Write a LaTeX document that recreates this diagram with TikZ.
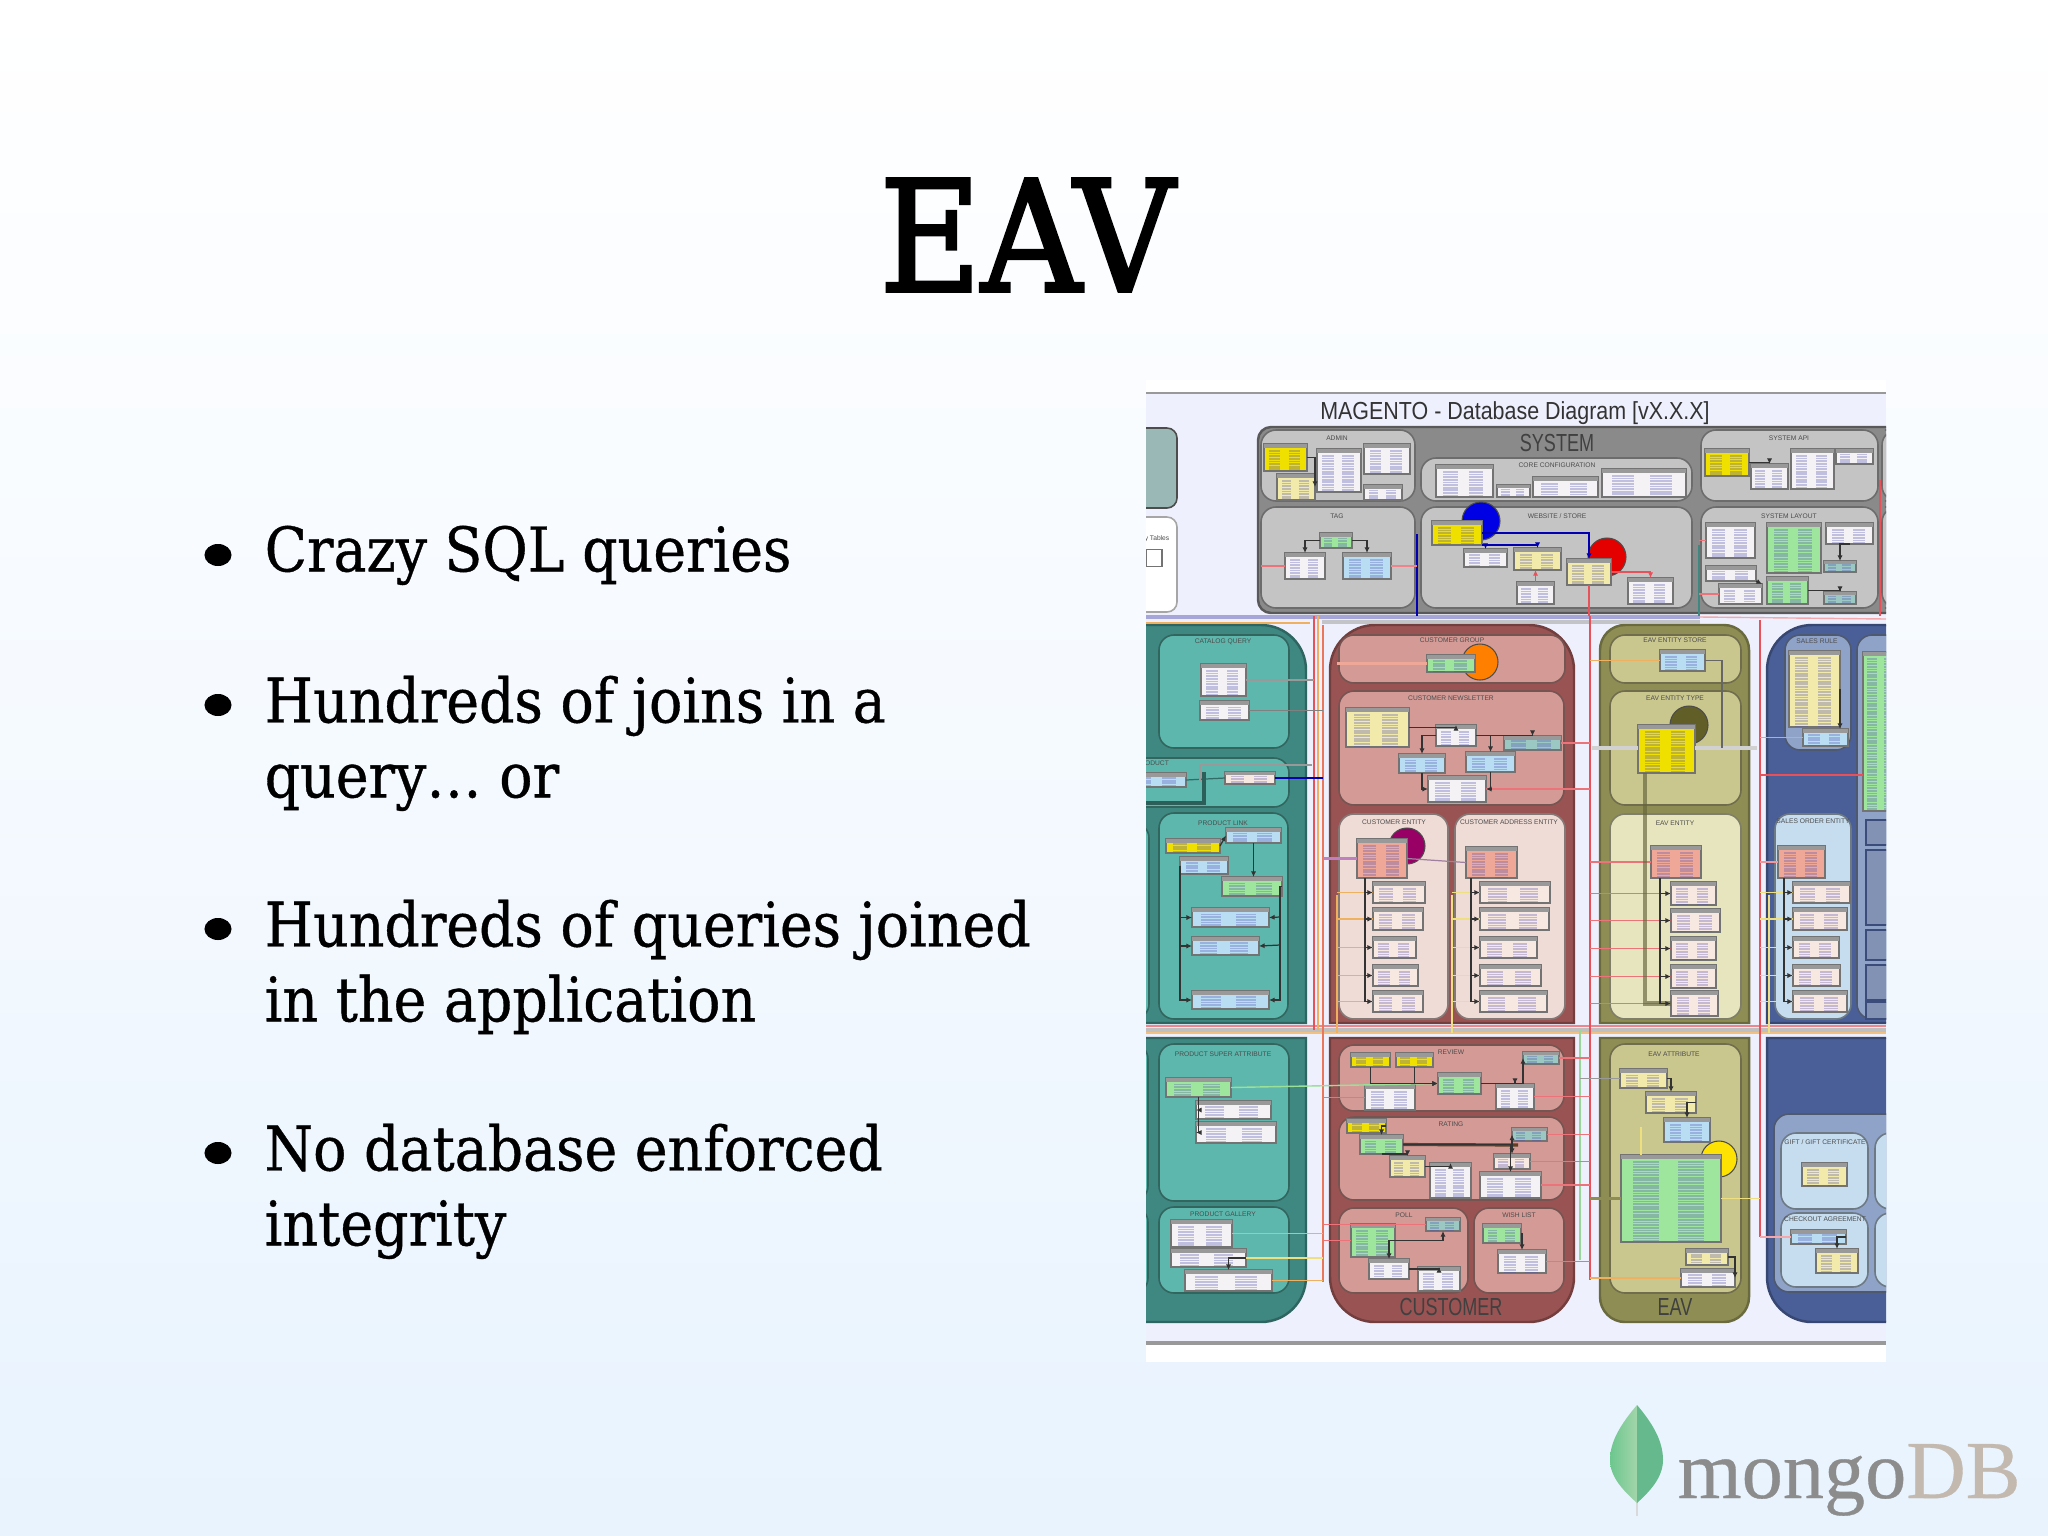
\documentclass[tikz,border=0pt]{standalone}
\usepackage{fontspec}
\setmainfont{DejaVu Serif Condensed}
\newfontfamily\headfont[FakeBold=2]{DejaVu Serif Condensed}
\newfontfamily\itemfont[FakeBold=0.6]{DejaVu Serif Condensed}
\newfontfamily\diagfont{Liberation Sans}
\newfontfamily\logofont[FakeBold=0.4]{Liberation Serif}
\usetikzlibrary{shapes,arrows,arrows.meta}
\definecolor{pagetop}{rgb}{1, 1, 1}
\definecolor{pagelow}{HTML}{E8F3FE}
\definecolor{diagbg}{HTML}{EEF0FD}
\definecolor{sysout}{HTML}{8A8A8A}
\definecolor{sysin}{HTML}{C4C4C4}
\definecolor{tealout}{HTML}{3F8781}
\definecolor{tealin}{HTML}{5DB7AD}
\definecolor{cusout}{HTML}{995353}
\definecolor{cusin}{HTML}{D49A96}
\definecolor{cuspale}{HTML}{F0DCD6}
\definecolor{eavout}{HTML}{8E8E54}
\definecolor{eavin}{HTML}{C9C68E}
\definecolor{eavpale}{HTML}{E7E5BE}
\definecolor{salout}{HTML}{4A5F98}
\definecolor{salin}{HTML}{8FA2C8}
\definecolor{salpale}{HTML}{C6DDF0}
\definecolor{tabwhite}{HTML}{F4F2F4}
\definecolor{tabyellow}{HTML}{F0E000}
\definecolor{tabpale}{HTML}{F2EAAA}
\definecolor{tabgreen}{HTML}{9EE69E}
\definecolor{tabblue}{HTML}{B9DDF3}
\definecolor{tabsalmon}{HTML}{EFA898}
\definecolor{tabteal}{HTML}{9CC8C4}
\definecolor{tabpink}{HTML}{F8E8E2}
\definecolor{busred}{HTML}{E8505A}
\definecolor{busorange}{HTML}{EFB060}
\definecolor{busyellow}{HTML}{EEE080}
\definecolor{leafa}{HTML}{6CC78E}
\definecolor{leafb}{HTML}{A2D5AA}
\definecolor{leafc}{HTML}{66B98C}
\tikzset{
  panel/.style={line width=0.7pt},
  grp/.style={line width=0.45pt},
  dbbox/.style={draw=black!55,line width=0.3pt,inner sep=0pt,outer sep=0pt},
  conn/.style={draw=black!80,line width=0.35pt,-{Latex[length=1.6pt,width=1.5pt]}},
  grplab/.style={font=\diagfont\fontsize{1.9}{2.3}\selectfont,text=black!70,inner sep=0pt},
  biglab/.style={font=\diagfont\fontsize{5.4}{6}\selectfont,text=black!75,inner sep=0pt,xscale=.95,yscale=1.3},
  itemtext/.style={anchor=north west,align=left,inner sep=0pt,font=\itemfont\fontsize{17.5}{21.3}\selectfont,text=black},
  dotmark/.style={ellipse,fill=black,inner sep=0pt,minimum width=0.27cm,minimum height=0.22cm},
  busline/.style={draw=busred!80,line width=0.35pt},
  pale/.style={draw=busyellow,line width=0.5pt}
}
% corners on top only
\newcommand{\panelup}[6]{
  \draw[panel,fill=#6,draw=#6!75!black] (#1,#4) [rounded corners=#5] -- (#1,#2) -- (#3,#2) [sharp corners] -- (#3,#4) -- cycle;
}
% corners at the bottom only
\newcommand{\paneldown}[6]{
  \draw[panel,fill=#6,draw=#6!75!black] (#1,#2) [rounded corners=#5] -- (#1,#4) -- (#3,#4) [sharp corners] -- (#3,#2) -- cycle;
}
\newcommand{\subgroup}[5]{
  \draw[grp,fill=#5,draw=#5!55!black,rounded corners=0.15cm] (#1,#2) rectangle (#3,#4);
}
\newcommand{\dbtable}[6]{
  \node[dbbox,fill=#6,minimum width={(#4-#2)*0.01cm},minimum height={(#5-#3)*0.01cm}] (#1) at ({(#2+#4)/2},{(#3+#5)/2}) {};
  \fill[black!40] (#2,#3) rectangle (#4,{#3+min(3.5,(#5-#3)*.25)});
  \draw[blue!40!gray,opacity=.3,line width={(#4-#2)*0.0026cm},dash pattern=on 0.5pt off 0.25pt]
    ({#2+(#4-#2)*.25},{#3+min(6,(#5-#3)*.3)}) -- ({#2+(#4-#2)*.25},{#5-1});
  \draw[blue!40!gray,opacity=.3,line width={(#4-#2)*0.0026cm},dash pattern=on 0.5pt off 0.25pt]
    ({#2+(#4-#2)*.7},{#3+min(6,(#5-#3)*.3)}) -- ({#2+(#4-#2)*.7},{#5-1});
}

\begin{document}
\begin{tikzpicture}[x=0.01cm,y=-0.01cm]
\useasboundingbox (0,0) rectangle (2048,1536);
\shade[top color=pagetop,bottom color=pagelow,middle color=pagelow!45!white] (0,0) rectangle (2048,1536);

% slide text
\node[inner sep=0pt,font=\headfont\fontsize{44}{50}\selectfont,text=black] (heading) at (1027,235) {EAV};

\node[dotmark] (dot1) at (218,555) {};
\node[dotmark] (dot2) at (218,705) {};
\node[dotmark] (dot3) at (218,929) {};
\node[dotmark] (dot4) at (218,1153) {};
\node[itemtext] (item1) at (264,525) {Crazy SQL queries};
\node[itemtext] (item2) at (264,675) {Hundreds of joins in a\\query\dots{} or};
\node[itemtext] (item3) at (264,899) {Hundreds of queries joined\\in the application};
\node[itemtext] (item4) at (264,1123) {No database enforced\\integrity};

% logo
\draw[black!15,line width=0.8pt] (1637,1498) -- (1637,1516);
\shade[left color=leafa,right color=leafb] (1637,1405) .. controls (1620,1425) and (1610,1442) .. (1610,1460) .. controls (1610,1478) and (1625,1492) .. (1637,1503) -- cycle;
\fill[leafc] (1637,1405) .. controls (1654,1425) and (1663,1442) .. (1663,1460) .. controls (1663,1478) and (1649,1492) .. (1637,1503) -- cycle;
\node[anchor=base west,inner sep=0pt,font=\logofont\fontsize{23.4}{25}\selectfont] (logo) at (1677,1498) {\textcolor{black!45}{mongo}\textcolor{brown!30!gray!55}{DB}};

% database picture
\fill[white] (1146,380) rectangle (1886,1362);
\begin{scope}
\clip (1146,380) rectangle (1886,1362);
\fill[diagbg] (1146,393) rectangle (1886,1343);
\draw[black!40,line width=0.7pt] (1146,393) -- (1886,393);
\draw[black!40,line width=1pt] (1146,1343) -- (1886,1343);

\node[inner sep=0pt,font=\diagfont\fontsize{6.1}{7}\selectfont,text=black!80,yscale=1.15] (dbtitle) at (1515,413) {MAGENTO - Database Diagram [vX.X.X]};

% left stubs
\draw[grp,fill=tealin!50!gray!70,draw=black!70,rounded corners=0.1cm] (1130,428) rectangle (1177,508);
\draw[grp,fill=white,draw=black!35,rounded corners=0.1cm] (1130,517) rectangle (1177,612);
\node[grplab] (lablegend) at (1157,539) {y Tables};
\node[dbbox,fill=white,minimum width=0.16cm,minimum height=0.17cm] (legend) at (1154,558) {};

% system
\draw[panel,fill=sysout,draw=black!65,rounded corners=0.13cm] (1258,427) rectangle (1900,613);
\foreach \xa/\ya/\xb/\yb in {1261/430/1415/501,1421/458/1692/501,1701/430/1878/501,1882/430/1900/501,1261/507/1415/608,1421/507/1692/608,1701/507/1878/608,1882/507/1900/608}
  \subgroup{\xa}{\ya}{\xb}{\yb}{sysin};
\node[biglab] (labsystem) at (1557,443) {SYSTEM};
\node[grplab] (labadmin) at (1337,438) {ADMIN};
\node[grplab] (labcore) at (1557,465) {CORE CONFIGURATION};
\node[grplab] (labapi) at (1789,438) {SYSTEM API};
\node[grplab] (labtag) at (1337,516) {TAG};
\node[grplab] (labweb) at (1557,516) {WEBSITE / STORE};
\node[grplab] (lablay) at (1789,516) {SYSTEM LAYOUT};

% teal
\panelup{1100}{625}{1306}{1023}{0.45cm}{tealout}
\paneldown{1100}{1038}{1306}{1322}{0.45cm}{tealout}
\foreach \xa/\ya/\xb/\yb in {1159/635/1289/748,1130/758/1289/807,1159/813/1288/1019,1130/823/1149/1019,1159/1044/1289/1201,1159/1207/1289/1293,1130/1044/1148/1201,1130/1207/1148/1293}
  \subgroup{\xa}{\ya}{\xb}{\yb}{tealin};
\node[grplab] (labcq) at (1223,642) {CATALOG QUERY};
\node[grplab] (labprd) at (1157,763) {ODUCT};
\node[grplab] (lablnk) at (1223,823) {PRODUCT LINK};
\node[grplab] (labpsa) at (1223,1054) {PRODUCT SUPER ATTRIBUTE};
\node[grplab] (labgal) at (1223,1214) {PRODUCT GALLERY};

% customer
\panelup{1330}{625}{1574}{1023}{0.45cm}{cusout}
\paneldown{1330}{1038}{1574}{1322}{0.45cm}{cusout}
\foreach \xa/\ya/\xb/\yb in {1339/635/1565/683,1339/691/1564/805,1339/1045/1564/1111,1339/1117/1564/1200,1339/1208/1468/1293,1474/1208/1564/1293}
  \subgroup{\xa}{\ya}{\xb}{\yb}{cusin};
\subgroup{1339}{814}{1448}{1019}{cuspale}
\subgroup{1455}{814}{1565}{1019}{cuspale}
\node[grplab] (labgrp) at (1452,640) {CUSTOMER GROUP};
\node[grplab] (labnws) at (1451,698) {CUSTOMER NEWSLETTER};
\node[grplab] (labce) at (1394,822) {CUSTOMER ENTITY};
\node[grplab] (labca) at (1509,822) {CUSTOMER ADDRESS ENTITY};
\node[grplab] (labrev) at (1451,1052) {REVIEW};
\node[grplab] (labrat) at (1451,1124) {RATING};
\node[grplab] (labpol) at (1404,1215) {POLL};
\node[grplab] (labwsh) at (1519,1215) {WISH LIST};
\node[biglab] (labcus) at (1451,1307) {CUSTOMER};

% eav
\panelup{1600}{625}{1749}{1023}{0.25cm}{eavout}
\paneldown{1600}{1038}{1749}{1322}{0.25cm}{eavout}
\subgroup{1610}{635}{1741}{683}{eavin}
\subgroup{1610}{691}{1741}{805}{eavin}
\subgroup{1610}{814}{1741}{1019}{eavpale}
\subgroup{1610}{1044}{1741}{1293}{eavin}
\node[grplab] (labes) at (1675,640) {EAV ENTITY STORE};
\node[grplab] (labty) at (1675,698) {EAV ENTITY TYPE};
\node[grplab] (labee) at (1675,823) {EAV ENTITY};
\node[grplab] (labat) at (1674,1054) {EAV ATTRIBUTE};
\node[biglab] (labeav) at (1675,1307) {EAV};

% sales
\panelup{1767}{625}{1930}{1023}{0.45cm}{salout}
\paneldown{1767}{1038}{1930}{1322}{0.45cm}{salout}
\subgroup{1785}{635}{1851}{750}{salin}
\subgroup{1857}{635}{1930}{1019}{salin}
\subgroup{1775}{814}{1851}{1019}{salpale}
\subgroup{1774}{1114}{1930}{1292}{salin}
\foreach \xa/\ya/\xb/\yb in {1781/1133/1868/1209,1781/1213/1868/1287,1875/1133/1930/1209,1875/1213/1930/1287}
  \subgroup{\xa}{\ya}{\xb}{\yb}{salpale};
\node[grplab] (labsrl) at (1817,641) {SALES RULE};
\node[grplab] (labsoe) at (1813,821) {SALES ORDER ENTITY};
\node[grplab] (labgft) at (1825,1142) {GIFT / GIFT CERTIFICATE};
\node[grplab] (labchk) at (1825,1219) {CHECKOUT AGREEMENT};

% circles
\draw[black!70,fill=blue!90!black,line width=0.3pt] (1481,521) circle (19);
\draw[black!70,fill=red!90!black,line width=0.3pt] (1607,557) circle (19);
\draw[black!70,fill=orange,line width=0.3pt] (1480,662) circle (18);
\draw[black!70,fill=violet!80!red,line width=0.3pt] (1407,846) circle (18);
\draw[black!70,fill=olive!60!black,line width=0.3pt] (1689,725) circle (19);
\draw[black!70,fill=yellow!85!orange,line width=0.3pt] (1719,1159) circle (18);

% tables
\dbtable{adm1}{1264}{444}{1307}{471}{tabyellow}
\dbtable{adm2}{1277}{474}{1315}{500}{tabpale}
\dbtable{adm3}{1317}{449}{1361}{492}{tabwhite}
\dbtable{adm4}{1364}{444}{1410}{474}{tabwhite}
\dbtable{adm5}{1364}{485}{1402}{500}{tabwhite}
\dbtable{cfg1}{1436}{465}{1493}{497}{tabwhite}
\dbtable{cfg2}{1497}{485}{1530}{497}{tabwhite}
\dbtable{cfg3}{1533}{477}{1598}{497}{tabwhite}
\dbtable{cfg4}{1602}{469}{1686}{497}{tabwhite}
\dbtable{api1}{1705}{449}{1749}{476}{tabyellow}
\dbtable{api2}{1751}{464}{1788}{489}{tabwhite}
\dbtable{api3}{1791}{449}{1834}{489}{tabwhite}
\dbtable{api4}{1836}{449}{1873}{464}{tabwhite}
\dbtable{tag1}{1320}{533}{1352}{548}{tabgreen}
\dbtable{tag2}{1285}{553}{1325}{579}{tabwhite}
\dbtable{tag3}{1343}{553}{1391}{579}{tabblue}
\dbtable{web1}{1432}{521}{1482}{545}{tabyellow}
\dbtable{web2}{1464}{549}{1507}{567}{tabwhite}
\dbtable{web3}{1514}{548}{1561}{570}{tabpale}
\dbtable{web4}{1567}{559}{1611}{585}{tabpale}
\dbtable{web5}{1517}{582}{1554}{604}{tabwhite}
\dbtable{web6}{1628}{578}{1673}{604}{tabwhite}
\dbtable{lay1}{1706}{523}{1755}{558}{tabwhite}
\dbtable{lay2}{1767}{523}{1821}{573}{tabgreen}
\dbtable{lay3}{1826}{523}{1873}{544}{tabwhite}
\dbtable{lay4}{1824}{561}{1856}{572}{tabteal}
\dbtable{lay5}{1706}{566}{1756}{581}{tabwhite}
\dbtable{lay6}{1719}{584}{1762}{604}{tabwhite}
\dbtable{lay7}{1767}{577}{1808}{604}{tabgreen}
\dbtable{lay8}{1824}{592}{1856}{604}{tabteal}
\dbtable{cq1}{1201}{664}{1246}{696}{tabwhite}
\dbtable{cq2}{1200}{701}{1249}{720}{tabwhite}
\dbtable{prd1}{1130}{773}{1186}{787}{tabblue}
\dbtable{prd2}{1225}{772}{1275}{784}{tabpink}
\dbtable{lnk1}{1226}{828}{1281}{843}{tabblue}
\dbtable{lnk2}{1166}{839}{1220}{853}{tabyellow}
\dbtable{lnk3}{1180}{857}{1228}{874}{tabblue}
\dbtable{lnk4}{1222}{877}{1282}{896}{tabgreen}
\dbtable{lnk5}{1192}{908}{1269}{927}{tabblue}
\dbtable{lnk6}{1192}{937}{1259}{955}{tabblue}
\dbtable{lnk7}{1192}{991}{1269}{1009}{tabblue}
\dbtable{psa1}{1166}{1078}{1231}{1097}{tabgreen}
\dbtable{psa2}{1196}{1101}{1271}{1119}{tabwhite}
\dbtable{psa3}{1196}{1122}{1276}{1143}{tabwhite}
\dbtable{gal1}{1171}{1220}{1232}{1247}{tabwhite}
\dbtable{gal2}{1171}{1249}{1246}{1267}{tabwhite}
\dbtable{gal3}{1185}{1270}{1272}{1291}{tabwhite}
\dbtable{grp1}{1427}{655}{1475}{672}{tabgreen}
\dbtable{nws1}{1346}{708}{1409}{747}{tabpale}
\dbtable{nws2}{1436}{725}{1476}{746}{tabwhite}
\dbtable{nws3}{1504}{736}{1561}{750}{tabteal}
\dbtable{nws4}{1399}{754}{1445}{773}{tabblue}
\dbtable{nws5}{1466}{752}{1515}{772}{tabblue}
\dbtable{nws6}{1428}{776}{1486}{802}{tabwhite}
\dbtable{ce0}{1357}{839}{1407}{878}{tabsalmon}
\foreach \n/\xe/\ya/\yb in {1/1425/882/903,2/1423/908/930,3/1416/937/958,4/1418/965/986,5/1423/991/1012}
  \dbtable{ce\n}{1373}{\ya}{\xe}{\yb}{tabpink};
\dbtable{ca0}{1466}{847}{1517}{878}{tabsalmon}
\foreach \n/\xe/\ya/\yb in {1/1550/882/903,2/1549/908/930,3/1537/937/958,4/1541/965/986,5/1547/991/1012}
  \dbtable{ca\n}{1480}{\ya}{\xe}{\yb}{tabpink};
\dbtable{es1}{1660}{650}{1705}{671}{tabblue}
\dbtable{ty1}{1638}{725}{1695}{773}{tabyellow}
\dbtable{ee0}{1651}{846}{1701}{878}{tabsalmon}
\foreach \n/\xe/\ya/\yb in {1/1716/882/905,2/1720/909/932,3/1716/937/960,4/1716/965/988,5/1718/991/1016}
  \dbtable{ee\n}{1671}{\ya}{\xe}{\yb}{tabpink};
\dbtable{srl1}{1789}{651}{1840}{727}{tabpale}
\dbtable{srl2}{1803}{729}{1848}{746}{tabblue}
\dbtable{sgr1}{1863}{652}{1900}{811}{tabgreen}
\dbtable{soe0}{1778}{846}{1825}{878}{tabsalmon}
\foreach \n/\xe/\ya/\yb in {1/1850/882/903,2/1847/908/930,3/1839/937/958,4/1840/965/986,5/1847/991/1012}
  \dbtable{soe\n}{1793}{\ya}{\xe}{\yb}{tabpink};
\dbtable{rev1}{1351}{1053}{1390}{1067}{tabyellow}
\dbtable{rev2}{1396}{1053}{1433}{1067}{tabyellow}
\dbtable{rev3}{1523}{1052}{1559}{1064}{tabteal}
\dbtable{rev4}{1438}{1073}{1481}{1094}{tabgreen}
\dbtable{rev5}{1365}{1085}{1415}{1110}{tabwhite}
\dbtable{rev6}{1496}{1084}{1534}{1109}{tabwhite}
\dbtable{rat1}{1347}{1119}{1386}{1133}{tabyellow}
\dbtable{rat2}{1360}{1135}{1403}{1154}{tabgreen}
\dbtable{rat3}{1512}{1128}{1547}{1141}{tabteal}
\dbtable{rat4}{1390}{1156}{1425}{1177}{tabpale}
\dbtable{rat5}{1430}{1163}{1471}{1198}{tabwhite}
\dbtable{rat6}{1494}{1154}{1530}{1169}{tabpink}
\dbtable{rat7}{1480}{1172}{1541}{1198}{tabwhite}
\dbtable{pol1}{1351}{1224}{1395}{1257}{tabgreen}
\dbtable{pol2}{1426}{1218}{1460}{1231}{tabteal}
\dbtable{pol3}{1369}{1259}{1409}{1279}{tabwhite}
\dbtable{pol4}{1418}{1267}{1460}{1291}{tabwhite}
\dbtable{wsh1}{1483}{1224}{1521}{1243}{tabgreen}
\dbtable{wsh2}{1498}{1250}{1546}{1273}{tabwhite}
\dbtable{at1}{1620}{1069}{1667}{1088}{tabpale}
\dbtable{at2}{1646}{1092}{1696}{1113}{tabpale}
\dbtable{at3}{1664}{1118}{1710}{1142}{tabblue}
\dbtable{at4}{1621}{1155}{1721}{1242}{tabgreen}
\dbtable{at5}{1686}{1249}{1728}{1265}{tabpale}
\dbtable{at6}{1681}{1269}{1735}{1287}{tabwhite}
\dbtable{gft1}{1802}{1163}{1847}{1186}{tabpale}
\dbtable{chk1}{1791}{1230}{1846}{1244}{tabblue}
\dbtable{chk2}{1816}{1249}{1858}{1273}{tabpale}

% buses
\coordinate (busa) at (1590,616);
\coordinate (busb) at (1760,620);
\coordinate (busc) at (1314,616);
\coordinate (busd) at (1323,625);
\coordinate (buse) at (1337,895);
\coordinate (busf) at (1452,895);
\coordinate (busg) at (1769,895);
\coordinate (bandl) at (1146,617);
\coordinate (bandm) at (1700,617);
\coordinate (bandr) at (1886,619);
\coordinate (lowl) at (1146,1030);
\coordinate (lowr) at (1886,1030);
\draw[blue!40!gray!50,line width=0.9pt] (bandl) -- (bandm);
\draw[busred!50,line width=0.4pt] (bandm) -- (bandr);
\draw[busorange,line width=0.4pt] (1146,623) -- (1310,623);
\draw[black!30,line width=1.1pt,opacity=.7] (1322,622) -- (1700,622);
\draw[black!25,line width=1.4pt] (lowl) -- (lowr);
\draw[busred!70,line width=0.4pt] (1146,1026) -- (1886,1026);
\draw[busorange!80,line width=0.4pt] (1146,1033) -- (1886,1033);
\draw[busred,line width=0.4pt] (busa) -- (1590,1280);
\draw[busred,line width=0.4pt] (busb) -- (1760,1237);
\draw[busred,line width=0.4pt] (busc) -- (1314,1030);
\draw[busorange,line width=0.4pt] (1318,616) -- (1318,1030);
\draw[busred!60!busorange,line width=0.4pt] (busd) -- (1323,1282);
\draw[busorange,line width=0.5pt] (buse) -- (1337,1033);
\draw[busyellow,line width=0.6pt] (busf) -- (1452,1033);
\draw[busyellow,line width=0.5pt] (busg) -- (1769,1033);
\draw[black!40!green!40,line width=0.35pt] (1580,1030) -- (1580,1260);
\draw[blue!70!black,line width=0.5pt] (1417,534) -- (1417,616);
\draw[tealout,line width=0.5pt] (1699,545) -- (1699,616);
\draw[busred,line width=0.4pt] (1880,480) -- (1880,616);

% connectors to the buses
\foreach \n in {0,...,5} \draw[busline] (ee\n.west) -- (ee\n.west -| busa);
\foreach \n in {1,...,5} \draw[busorange,line width=0.35pt] (ce\n.west) -- (ce\n.west -| buse);
\foreach \n in {1,...,5} \draw[busyellow,line width=0.35pt] (ca\n.west) -- (ca\n.west -| busf);
\foreach \n in {1,...,5} \draw[busyellow,line width=0.35pt] (soe\n.west) -- (soe\n.west -| busb);
\foreach \t in {rev3,rev6,rat3,rat6,rat7,wsh2,nws3,nws6} \draw[busline] (\t.east) -- (\t.east -| busa);
\foreach \t in {rev5,pol1} \draw[busline] (\t.west) -- (\t.west -| busd);
\draw[busline] (pol2.west) -- (pol2.west -| busd);
\foreach \t in {gal1,gal3} \draw[busorange,line width=0.5pt] (\t.east) -- (\t.east -| busd);
\draw[pale] (gal2.east) -- (gal2.east -| busd);
\draw[tabsalmon,line width=0.8pt] (grp1.west) -- (grp1.west -| buse);
\draw[busorange,line width=0.5pt] (es1.west) -- (es1.west -| busa);
\draw[violet!50,line width=1pt] (ce0.west) -- (ce0.west -| busd);
\draw[violet!50!black!50,line width=0.35pt] (ce0.east) -- (ca0.west);
\draw[busred,line width=0.8pt] (1760,775) -- (sgr1.west |- 1760,775);
\draw[busred!60,line width=0.4pt] (soe0.west) -- (soe0.west -| busb);
\draw[busred!60,line width=0.4pt] (srl2.west) -- (srl2.west -| busb);
\draw[black!40,line width=0.4pt] (cq1.east) -- (cq1.east -| busc);
\draw[black!50,line width=0.4pt] (cq2.east) -- (cq2.east -| busd);
\draw[blue!70!black,line width=0.5pt] (prd2.east) -- (prd2.east -| busd);
\draw[tealout!80!black,line width=0.35pt] (prd1.east) -- (prd2.west);
\draw[black!40,line width=0.4pt] (1200,782) -- (1200,765) -- (1312,765);
\draw[tealout!70!black,line width=1pt] (1146,803) -- (1204,803) -- (1204,772);
\draw[black!18,line width=1pt] (1592,748) -- (ty1.west |- 1592,748);
\draw[black!18,line width=1pt] (ty1.east |- 1592,748) -- (1757,748);
\draw[black!60,line width=0.35pt] (es1.east) -| (1722,748);
\draw[eavout!70!black,line width=1.4pt,opacity=.65] (ty1.south west) ++(7,0) |- (ee5.west);
\draw[black!30!green!40,line width=0.4pt] (psa1.east) -- (rev4.west);
\draw[black!40,line width=0.4pt] (at1.west) -- (at1.west -| 1580,0);
\draw[eavout,line width=0.6pt] (at4.west) -- (at4.west -| busa);
\draw[busorange,line width=0.5pt] (at6.west) -- (at6.west -| busa);
\draw[busyellow,line width=0.5pt] (at4.east) -- (at4.east -| busb);
\draw[busyellow,line width=0.8pt] (1641,1127) -- (1641,1155);
\draw[busred!50,line width=0.4pt] (chk1.west) -- (chk1.west -| busb);
\foreach \t in {lay1,lay6} \draw[busline] (\t.west) -- (\t.west -| 1699,0);
\foreach \t in {tag2} \draw[busline] (\t.west) -- (\t.west -| 1261,0);
\draw[busred!70,line width=0.8pt] (tag3.east) -- (1417,566);

% inner connectors
\foreach \n in {1,...,5} \draw[conn] (1365,878) |- (ce\n.west);
\foreach \n in {1,...,5} \draw[conn] (1471,878) |- (ca\n.west);
\foreach \n in {1,...,5} \draw[conn] (1660,878) |- (ee\n.west);
\foreach \n in {1,...,5} \draw[conn] (1784,878) |- (soe\n.west);
\draw[conn] (tag1.west) -| (tag2.north);
\draw[conn] (tag1.east) -| (tag3.north);
\draw[conn] (adm1.east) -| (adm2.east);
\draw[conn] (api1.east) -| (api2.north);
\draw[conn,draw=blue!70!black,line width=0.6pt] (web1.east) -| (web4.north);
\draw[conn,draw=blue!70!black,line width=0.4pt] (web1.south east) -| (web2.north);
\draw[conn,draw=blue!70!black,line width=0.4pt] (web1.south east) -| (web3.north);
\draw[conn,draw=busred,line width=0.4pt] (web5.north) -- (web5.north |- web3.south);
\draw[conn,draw=busred,line width=0.4pt] (web4.east) -| (web6.north);
\draw[busred,line width=0.4pt] (web4.south) -- (web4.south |- 1590,616);
\draw[conn] (lay3.south) -| (lay4.north);
\draw[conn] (lay7.east) -| (lay8.north);
\draw[conn] (lay5.south east) -- (lay6.north east);
\draw[conn] (lnk1.south) -- (lnk4.north -| lnk1.south);
\draw[conn] (lnk2.east) -- (lnk1.west);
\draw[conn] (lnk3.west) |- (lnk7.west);
\draw[conn] (lnk3.west) |- (lnk6.west);
\draw[conn] (lnk3.west) |- (lnk5.west);
\draw[conn] (lnk4.east) -| (1280,1000) -- (lnk7.east);
\draw[conn] (1280,945) -- (lnk6.east);
\draw[conn] (1280,917) -- (lnk5.east);
\draw[conn] (psa1.south) |- (psa2.west);
\draw[conn] (psa1.south) |- (psa3.west);
\draw[conn] (gal2.east) -| (gal3.north);
\draw[conn] (nws1.east) -| (nws2.north);
\draw[conn] (nws2.east) -| (nws3.north);
\draw[conn] (nws2.west) -| (nws4.north);
\draw[conn] (nws2.east) -| (nws5.north);
\draw[conn] (nws4.south) |- (nws6.west);
\draw[conn] (nws5.south) |- (nws6.east);
\draw[conn] (rev1.south) |- (rev4.west);
\draw[conn] (rev2.south) |- (rev4.west);
\draw[conn] (rev4.east) -| (rev3.west);
\draw[conn] (rev4.east) -| (rev6.north);
\draw[conn] (rat1.east) -| (rat2.north);
\draw[conn] (rat2.south) -| (rat4.north);
\draw[black!50!brown,line width=0.9pt] (rat2.east) -- (1518,1145);
\draw[conn] (rat2.east) -| (rat3.west);
\draw[conn] (rat2.east) -| (rat6.north);
\draw[conn] (rat2.east) -| (rat7.north);
\draw[conn] (rat4.east) -| (rat5.north);
\draw[conn] (pol1.east) -| (pol2.south);
\draw[conn] (pol1.east) -| (pol3.north);
\draw[conn] (pol3.east) -| (pol4.north);
\draw[conn] (wsh1.east) -| (wsh2.north);
\draw[conn] (at1.east) -| (at2.north);
\draw[conn] (at2.east) -| (at3.north);
\draw[conn] (at5.east) -| (at6.east);
\draw[conn] (chk1.east) -| (chk2.north);
\draw[conn] (srl1.east) -- (srl1.east |- srl2.north);
% right column
\foreach \y/\z in {820/845,850/925,930/960,965/1000,1002/1019}
  \draw[salout!80!black,line width=0.3pt,fill=salin!90!black] (1866,\y) rectangle (1900,\z);
\end{scope}
\end{tikzpicture}
\end{document}
